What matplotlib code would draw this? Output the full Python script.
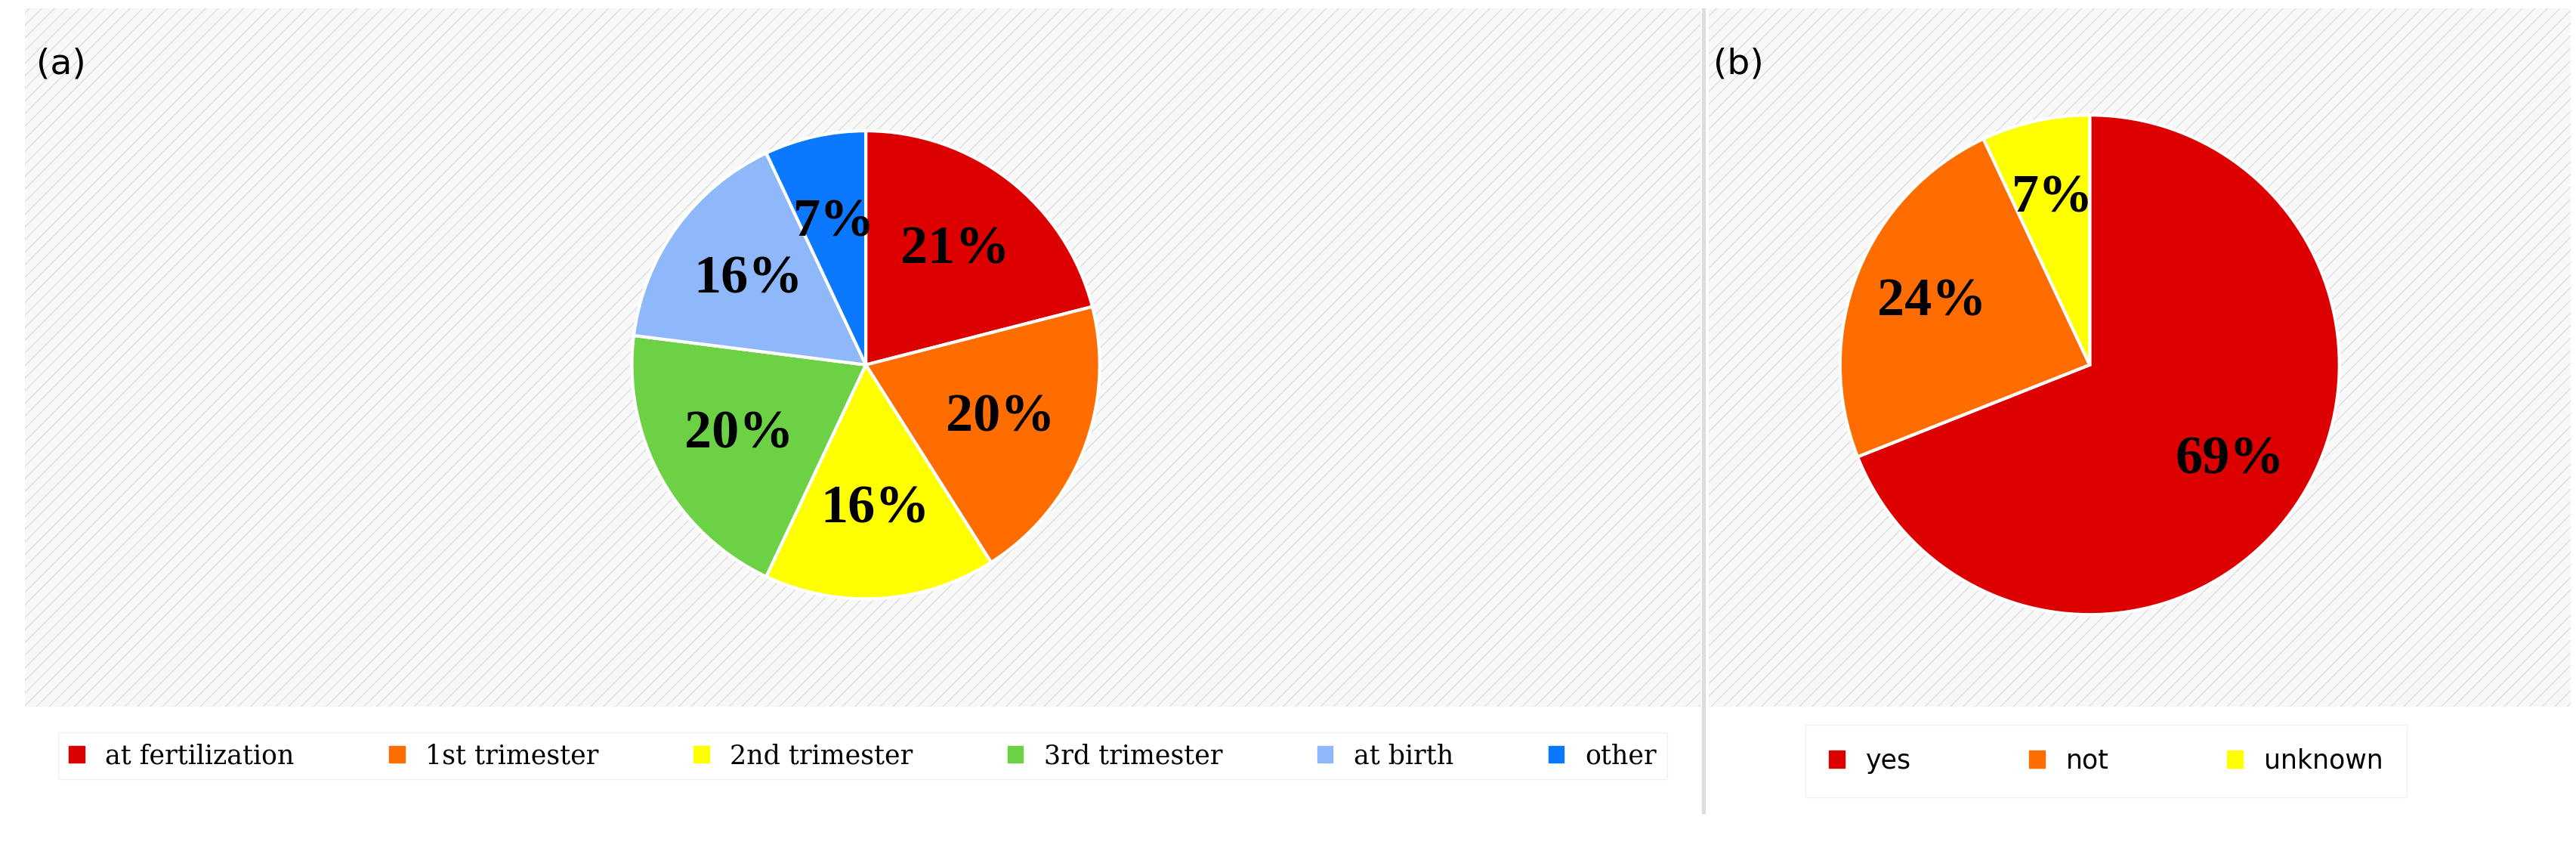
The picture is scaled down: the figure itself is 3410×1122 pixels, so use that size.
import matplotlib.pyplot as plt
from matplotlib.patches import Rectangle, Patch

# panel (a)
stage_labels = ['at fertilization', '1st trimester', '2nd trimester', '3rd trimester', 'at birth', 'other']
stage_values = [21, 20, 16, 20, 16, 7]
stage_colors = ['#dd0000', '#ff6d00', '#ffff00', '#6cd144', '#8fb8fb', '#0a78ff']

# panel (b)
ans_labels = ['yes', 'not', 'unknown']
ans_values = [69, 24, 7]
ans_colors = ['#dd0000', '#ff6d00', '#ffff00']

W, H = 3410, 1122
fig = plt.figure(figsize=(W / 100, H / 100), dpi=100)

def fx(px):
    return px / 1568

def fy(py):
    return 1 - py / 516

# hatched backgrounds
for x0, x1 in [(15, 1035), (1040, 1565)]:
    r = Rectangle((fx(x0), fy(430)), fx(x1) - fx(x0), fy(5) - fy(430),
                  transform=fig.transFigure, facecolor='#f8f8f8', edgecolor='#e0e0e0',
                  hatch='//', linewidth=0, zorder=-5)
    fig.patches.append(r)
fig.patches.append(Rectangle((fx(1036), fy(495)), fx(2), fy(5) - fy(495),
                             transform=fig.transFigure, color='#dddddd', zorder=-5))

def pie_axes(cx, cy, r):
    h = 2 * r / 516
    w = h * H / W
    ax = fig.add_axes([fx(cx) - w / 2, fy(cy) - h / 2, w, h], zorder=2)
    ax.patch.set_alpha(0)
    return ax

lab_font = dict(family='Liberation Serif', weight='bold', size=52, color='black')

ax1 = pie_axes(527, 222, 178)
w1, t1, a1 = ax1.pie(stage_values, colors=stage_colors, startangle=90, counterclock=False,
                     autopct='%d%%', pctdistance=0.62, textprops=lab_font,
                     wedgeprops=dict(edgecolor='white', linewidth=3))
ax1.set_aspect('equal')

ax2 = pie_axes(1272, 222, 190)
w2, t2, a2 = ax2.pie(ans_values, colors=ans_colors, startangle=90, counterclock=False,
                     autopct='%d%%', pctdistance=0.68, textprops=lab_font,
                     wedgeprops=dict(edgecolor='white', linewidth=3))
ax2.set_aspect('equal')

fig.text(fx(22), fy(45), '(a)', fontsize=34, family='DejaVu Sans')
fig.text(fx(1043), fy(45), '(b)', fontsize=34, family='DejaVu Sans')

leg_font = dict(family='DejaVu Serif', size=25)
h1 = [Patch(color=c) for c in stage_colors]
fig.legend(h1, stage_labels, loc='center', bbox_to_anchor=(fx(525), fy(460)), ncol=6,
           prop=leg_font, frameon=True, fancybox=False, edgecolor='#eeeeee',
           handlelength=0.6, handleheight=0.6, columnspacing=3.6, handletextpad=0.8)
h2 = [Patch(color=c) for c in ans_colors]
fig.legend(h2, ans_labels, loc='center', bbox_to_anchor=(fx(1282), fy(463)), ncol=3,
           prop=dict(family='DejaVu Sans', size=25), frameon=True, fancybox=False,
           edgecolor='#eeeeee', handlelength=0.6, handleheight=0.6,
           columnspacing=4.5, handletextpad=0.8, borderpad=0.9)

fig.savefig('out.png', dpi=100, facecolor='white')
